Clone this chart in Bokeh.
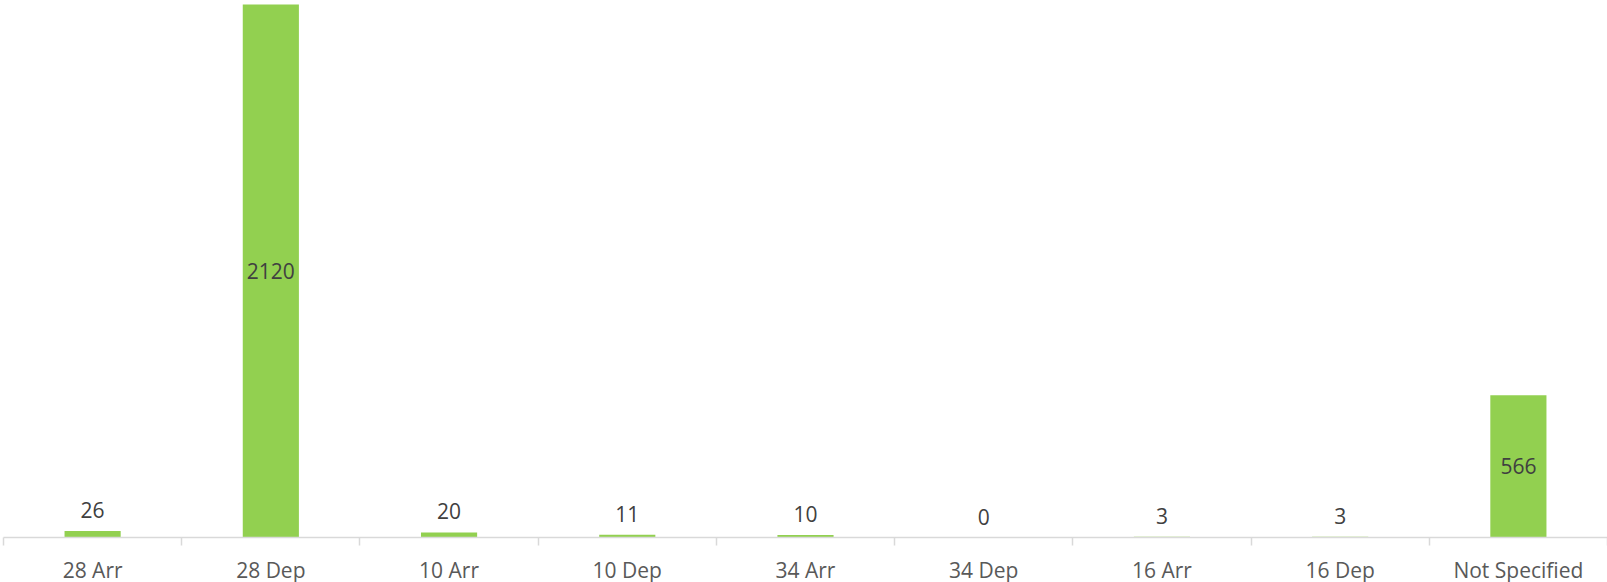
from bokeh.plotting import figure
from bokeh.models import ColumnDataSource, Range1d, LinearAxis, FixedTicker
from bokeh.core.properties import value
from bokeh.embed import file_html
from bokeh.resources import INLINE

categories = ["28 Arr", "28 Dep", "10 Arr", "10 Dep", "34 Arr", "34 Dep", "16 Arr", "16 Dep", "Not Specified"]
counts = [26, 2120, 20, 11, 10, 0, 3, 3, 566]

n = len(categories)
xs = [i + 0.5 for i in range(n)]
inside = [c > 200 for c in counts]
label_y = [c / 2 if ins else c for c, ins in zip(counts, inside)]
label_off = [0 if ins else -21 for ins in inside]

src = ColumnDataSource(dict(x=xs, val=counts, ly=label_y, lo=label_off,
                            txt=[str(c) for c in counts]))

p = figure(x_range=Range1d(0, n), y_range=Range1d(0, 2136),
           frame_width=1604, frame_height=537,
           x_axis_location=None, y_axis_location=None,
           output_backend="svg", toolbar_location=None,
           min_border_left=3, min_border_right=0, min_border_top=0, min_border_bottom=0)
p.outline_line_color = None
p.xgrid.visible = False
p.ygrid.visible = False
p.background_fill_color = "white"
p.border_fill_color = "white"

p.vbar(x="x", top="val", width=0.315, source=src, fill_color="#92D050", line_color=None)
p.text(x="x", y="ly", text="txt", y_offset="lo", source=src,
       text_align="center", text_baseline="middle",
       text_font=value("Open Sans"), text_font_size="21px", text_color="#404040")

bounds = list(range(n + 1))
tick_axis = LinearAxis(ticker=FixedTicker(ticks=bounds),
                       major_label_overrides={b: "" for b in bounds},
                       axis_line_color="#D9D9D9", axis_line_width=1.5,
                       major_tick_line_color="#D9D9D9", major_tick_line_width=1.5,
                       major_tick_out=8, major_tick_in=0, minor_tick_out=0, minor_tick_in=0,
                       major_label_text_font_size="1px", major_label_standoff=0)
p.add_layout(tick_axis, "below")

cat_axis = LinearAxis(ticker=FixedTicker(ticks=xs),
                      major_label_overrides={x: c for x, c in zip(xs, categories)},
                      axis_line_color=None, major_tick_line_color=None,
                      major_tick_out=0, major_tick_in=0, minor_tick_out=0, minor_tick_in=0,
                      major_label_text_font="Open Sans", major_label_text_font_size="21px",
                      major_label_text_color="#595959", major_label_standoff=10)
p.add_layout(cat_axis, "below")

html = file_html(p, INLINE)
html = html.replace("<head>", "<head><style>body{margin:0 !important;}</style>", 1)
open("out.html", "w").write(html)
